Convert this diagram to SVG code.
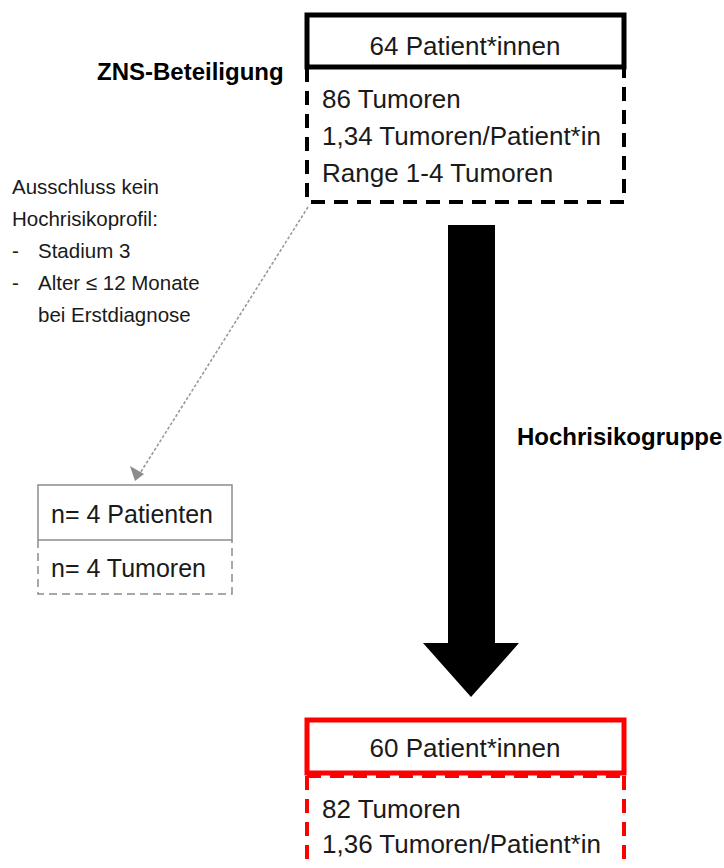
<svg xmlns="http://www.w3.org/2000/svg" width="724" height="868" viewBox="0 0 724 868">
<defs>
<style>
text{font-family:"Liberation Sans",Arial,sans-serif;fill:#1a1a1a}
.t{font-size:26px}
.b{font-size:24px;font-weight:bold;fill:#000}
.s{font-size:20.5px}
.n{font-size:25px}
</style>
<marker id="ah" viewBox="0 0 10 10" refX="9" refY="5" markerWidth="5" markerHeight="5" orient="auto" markerUnits="userSpaceOnUse">
<path d="M0,0 L10,5 L0,10 z" fill="#8c8c8c"/>
</marker>
</defs>
<rect width="724" height="868" fill="#fff"/>
<g id="connectors">
<line x1="308" y1="207" x2="137" y2="478" stroke="#9a9a9a" stroke-width="1.6" stroke-dasharray="3 2"/>
<path d="M130,466 L144,474 L135,481 Z" fill="#8c8c8c"/>
<polygon id="bigArrow" points="448,225 495,225 495,643 519,643 471,697 423,643 448,643" fill="#000"/>
</g>
<g id="top-node">
<path d="M307,68 V202 H624 V68" fill="none" stroke="#000" stroke-width="4" stroke-dasharray="14 9"/>
<rect x="307" y="15" width="317" height="52" fill="#fff" stroke="#000" stroke-width="5"/>
<text class="t" x="465" y="55" text-anchor="middle">64 Patient*innen</text>
<text class="t" x="322" y="108">86 Tumoren</text>
<text class="t" x="322" y="145">1,34 Tumoren/Patient*in</text>
<text class="t" x="322" y="182">Range 1-4 Tumoren</text>
</g>
<g id="label-zns">
<text class="b" x="97" y="80">ZNS-Beteiligung</text>
</g>
<g id="label-hoch">
<text class="b" x="517" y="445">Hochrisikogruppe</text>
</g>
<g id="exclusion-text">
<text class="s" x="12" y="194">Ausschluss kein</text>
<text class="s" x="12" y="226">Hochrisikoprofil:</text>
<text class="s" x="12" y="258">-</text>
<text class="s" x="38" y="258">Stadium 3</text>
<text class="s" x="12" y="290">-</text>
<text class="s" x="38" y="290">Alter ≤ 12 Monate</text>
<text class="s" x="38" y="322">bei Erstdiagnose</text>
</g>
<g id="excluded-node">
<path d="M38,540 V594 H232 V540" fill="none" stroke="#8c8c8c" stroke-width="1.5" stroke-dasharray="8 5"/>
<rect x="38" y="485" width="194" height="55" fill="#fff" stroke="#8c8c8c" stroke-width="1.5"/>
<text class="n" x="51" y="523">n= 4 Patienten</text>
<text class="n" x="51" y="577">n= 4 Tumoren</text>
</g>
<g id="bottom-node">
<path d="M307,776 V880 M624,776 V880 M307,776 H624" fill="none" stroke="#ff0000" stroke-width="4" stroke-dasharray="14 9"/>
<rect x="307" y="720" width="317" height="53" fill="#fff" stroke="#ff0000" stroke-width="5"/>
<text class="t" x="465" y="757" text-anchor="middle">60 Patient*innen</text>
<text class="t" x="322" y="818">82 Tumoren</text>
<text class="t" x="322" y="853">1,36 Tumoren/Patient*in</text>
</g>
</svg>
